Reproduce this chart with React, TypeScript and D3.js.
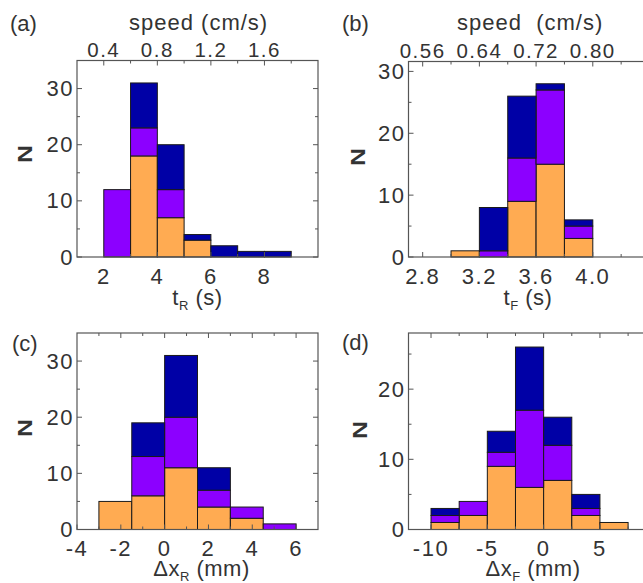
import * as d3 from 'd3';

// panel (a): rise time t_R histogram, bins of 1 s
const tRStart = [2, 3, 4, 5, 6, 7, 8];
const tROrange = [0, 18, 7, 3, 0, 0, 0];
const tRPurple = [12, 5, 5, 0, 0, 0, 0];
const tRBlue = [0, 8, 8, 1, 2, 1, 1];

// panel (b): fall time t_F histogram, bins of 0.2 s
const tFStart = [3.0, 3.2, 3.4, 3.6, 3.8];
const tFOrange = [1, 0, 9, 15, 3];
const tFPurple = [0, 1, 7, 12, 2];
const tFBlue = [0, 7, 10, 1, 1];

// panel (c): displacement dx_R, bins of 1.5 mm
const dxRStart = [-3, -1.5, 0, 1.5, 3, 4.5];
const dxROrange = [5, 6, 11, 4, 2, 0];
const dxRPurple = [0, 7, 9, 3, 2, 1];
const dxRBlue = [0, 6, 11, 4, 0, 0];

// panel (d): displacement dx_F, bins of 2.5 mm
const dxFStart = [-10, -7.5, -5, -2.5, 0, 2.5, 5];
const dxFOrange = [1, 2, 9, 6, 7, 2, 1];
const dxFPurple = [1, 2, 2, 11, 5, 1, 0];
const dxFBlue = [1, 0, 3, 9, 4, 2, 0];

// tick labels
const tRTicks = ['2', '4', '6', '8'];
const tFTicks = ['2.8', '3.2', '3.6', '4.0'];
const dxRTicks = ['-4', '-2', '0', '2', '4', '6'];
const dxFTicks = ['-10', '-5', '0', '5'];
const speedTicksA = ['0.4', '0.8', '1.2', '1.6'];
const speedTicksB = ['0.56', '0.64', '0.72', '0.80'];

const keys = ['orange', 'purple', 'blue'];
const colors: Record<string, string> = { orange: '#ffab52', purple: '#8c00ff', blue: '#0000a6' };
const FONT = '"Liberation Sans", Arial, Helvetica, sans-serif';
const TXT = '#333';
const AX = '#555';

type Cfg = {
  start: number[]; width: number;
  orange: number[]; purple: number[]; blue: number[];
  xDomain: [number, number]; yDomain: [number, number];
  left: number; right: number; top: number; bottom: number;
  xMajor: string[]; xMinor: number[];
  yMajor: number[]; yMinor: number[];
  topMajor?: string[]; topMinor?: number[];
  topTicksOnly?: number[]; topTicksOnlyMinor?: number[];
  tag: string; tagX: number; tagY: number;
  nX: number; nY: number;
  xLabel: [string, string, string]; xLabelX: number; xLabelY: number;
  title?: string; titleX?: number;
};

function Histogram({ c }: { c: Cfg }) {
  const x = d3.scaleLinear().domain(c.xDomain).range([c.left, c.right]);
  const y = d3.scaleLinear().domain(c.yDomain).range([c.bottom, c.top]);
  // speed axis on top: speed = 0.2 * t
  const speed = d3.scaleLinear().domain([c.xDomain[0] * 0.2, c.xDomain[1] * 0.2]).range([c.left, c.right]);

  const rows = c.start.map((s, i) => ({ s, orange: c.orange[i], purple: c.purple[i], blue: c.blue[i] }));
  const series = d3.stack<any>().keys(keys)(rows);

  const tick = (k: string, x1: number, y1: number, x2: number, y2: number) => (
    <line key={k} x1={x1} y1={y1} x2={x2} y2={y2} stroke={AX} strokeWidth={1} />
  );
  const ticks: any[] = [];
  c.xMajor.forEach((v, i) => ticks.push(tick('xb' + i, x(+v), c.bottom, x(+v), c.bottom - 5)));
  c.xMinor.forEach((v, i) => ticks.push(tick('xbm' + i, x(v), c.bottom, x(v), c.bottom - 3)));
  (c.topMajor || []).forEach((v, i) => ticks.push(tick('xt' + i, speed(+v), c.top, speed(+v), c.top + 5)));
  (c.topMinor || []).forEach((v, i) => ticks.push(tick('xtm' + i, speed(v), c.top, speed(v), c.top + 3)));
  (c.topTicksOnly || []).forEach((v, i) => ticks.push(tick('xo' + i, x(v), c.top, x(v), c.top + 5)));
  (c.topTicksOnlyMinor || []).forEach((v, i) => ticks.push(tick('xom' + i, x(v), c.top, x(v), c.top + 3)));
  c.yMajor.forEach((v, i) => {
    ticks.push(tick('yl' + i, c.left, y(v), c.left + 5, y(v)));
    ticks.push(tick('yr' + i, c.right, y(v), c.right - 5, y(v)));
  });
  c.yMinor.forEach((v, i) => {
    ticks.push(tick('ylm' + i, c.left, y(v), c.left + 3, y(v)));
    ticks.push(tick('yrm' + i, c.right, y(v), c.right - 3, y(v)));
  });

  return (
    <g fontFamily={FONT} fill={TXT}>
      {series.map((s: any) =>
        s.map((d: any, i: number) =>
          d[1] - d[0] > 0 ? (
            <rect key={s.key + i}
              x={x(d.data.s)} width={x(d.data.s + c.width) - x(d.data.s)}
              y={y(d[1])} height={y(d[0]) - y(d[1])}
              fill={colors[s.key]} stroke="#1a1a1a" strokeWidth={1} />
          ) : null
        )
      )}
      {ticks}
      <rect x={c.left} y={c.top} width={c.right - c.left} height={c.bottom - c.top}
        fill="none" stroke={AX} strokeWidth={1.2} />

      {c.xMajor.map(v => (
        <text key={'lx' + v} x={x(+v)} y={c.bottom + 26.5} textAnchor="middle" fontSize={22}
          style={{ letterSpacing: '1.5px' }}>{v}</text>
      ))}
      {c.yMajor.map(v => (
        <text key={'ly' + v} x={c.left - 3} y={y(v) + 7.5} textAnchor="end" fontSize={22}
          style={{ letterSpacing: '1.5px' }}>{v}</text>
      ))}
      {(c.topMajor || []).map(v => (
        <text key={'lt' + v} x={speed(+v)} y={c.top - 4} textAnchor="middle" fontSize={20.5}
          style={{ letterSpacing: '1.5px' }}>{v}</text>
      ))}
      {c.title ? (
        <text x={c.titleX} y={30} textAnchor="start" fontSize={22} style={{ letterSpacing: '1px', whiteSpace: 'pre' }}>{c.title}</text>
      ) : null}

      <text x={c.tagX} y={c.tagY} fontSize={22}>{c.tag}</text>
      <text transform={`translate(${c.nX},${c.nY}) rotate(-90) scale(1.25,1)`} textAnchor="middle"
        dy="0.36em" fontSize={20} fontWeight="bold">N</text>
      <text x={c.xLabelX} y={c.xLabelY} textAnchor="middle" fontSize={22} style={{ whiteSpace: 'pre', letterSpacing: '0.5px' }}>
        {c.xLabel[0]}
        <tspan fontSize={13} dy={4.5}>{c.xLabel[1]}</tspan>
        <tspan dy={-4.5}>{c.xLabel[2]}</tspan>
      </text>
    </g>
  );
}

const panels: Cfg[] = [
  {
    start: tRStart, width: 1, orange: tROrange, purple: tRPurple, blue: tRBlue,
    xDomain: [1, 10], yDomain: [0, 35], left: 77, right: 318, top: 60.5, bottom: 257,
    xMajor: tRTicks, xMinor: [3, 5, 7, 9], yMajor: [0, 10, 20, 30], yMinor: [5, 15, 25],
    topMajor: speedTicksA, topMinor: [0.6, 1.0, 1.4, 1.8],
    tag: '(a)', tagX: 10, tagY: 31, nX: 25, nY: 154,
    xLabel: ['t', 'R', ' (s)'], xLabelX: 197.5, xLabelY: 305,
    title: 'speed (cm/s)', titleX: 129,
  },
  {
    start: tFStart, width: 0.2, orange: tFOrange, purple: tFPurple, blue: tFBlue,
    xDomain: [2.7, 4.4], yDomain: [0, 31.6], left: 408.5, right: 649.5, top: 61.5, bottom: 257,
    xMajor: tFTicks, xMinor: [3.0, 3.4, 3.8, 4.2], yMajor: [0, 10, 20, 30], yMinor: [5, 15, 25],
    topMajor: speedTicksB, topMinor: [0.6, 0.68, 0.76, 0.84],
    tag: '(b)', tagX: 342, tagY: 31, nX: 358, nY: 157,
    xLabel: ['t', 'F', ' (s)'], xLabelX: 528, xLabelY: 305,
    title: 'speed  (cm/s)', titleX: 457,
  },
  {
    start: dxRStart, width: 1.5, orange: dxROrange, purple: dxRPurple, blue: dxRBlue,
    xDomain: [-4, 7], yDomain: [0, 35], left: 77, right: 318, top: 333, bottom: 529.5,
    xMajor: dxRTicks, xMinor: [-3, -1, 1, 3, 5], yMajor: [0, 10, 20, 30], yMinor: [5, 15, 25],
    topTicksOnly: [-2, 0, 2, 4, 6], topTicksOnlyMinor: [-3, -1, 1, 3, 5],
    tag: '(c)', tagX: 12, tagY: 351, nX: 25, nY: 428,
    xLabel: ['\u0394x', 'R', ' (mm)'], xLabelX: 201.5, xLabelY: 576,
  },
  {
    start: dxFStart, width: 2.5, orange: dxFOrange, purple: dxFPurple, blue: dxFBlue,
    xDomain: [-12, 9.4], yDomain: [0, 28], left: 408.5, right: 649.5, top: 333, bottom: 529.5,
    xMajor: dxFTicks, xMinor: [-7.5, -2.5, 2.5, 7.5], yMajor: [0, 10, 20], yMinor: [5, 15, 25],
    topTicksOnly: [-10, -5, 0, 5], topTicksOnlyMinor: [-7.5, -2.5, 2.5, 7.5],
    tag: '(d)', tagX: 342, tagY: 350, nX: 360, nY: 430,
    xLabel: ['\u0394x', 'F', ' (mm)'], xLabelX: 533, xLabelY: 576,
  },
];

export default function App() {
  return (
    <svg width={643} height={583} style={{ position: 'absolute', left: 0, top: 0, background: '#fff' }}>
      <rect width={643} height={583} fill="#fff" />
      {panels.map(p => <Histogram key={p.tag} c={p} />)}
    </svg>
  );
}
